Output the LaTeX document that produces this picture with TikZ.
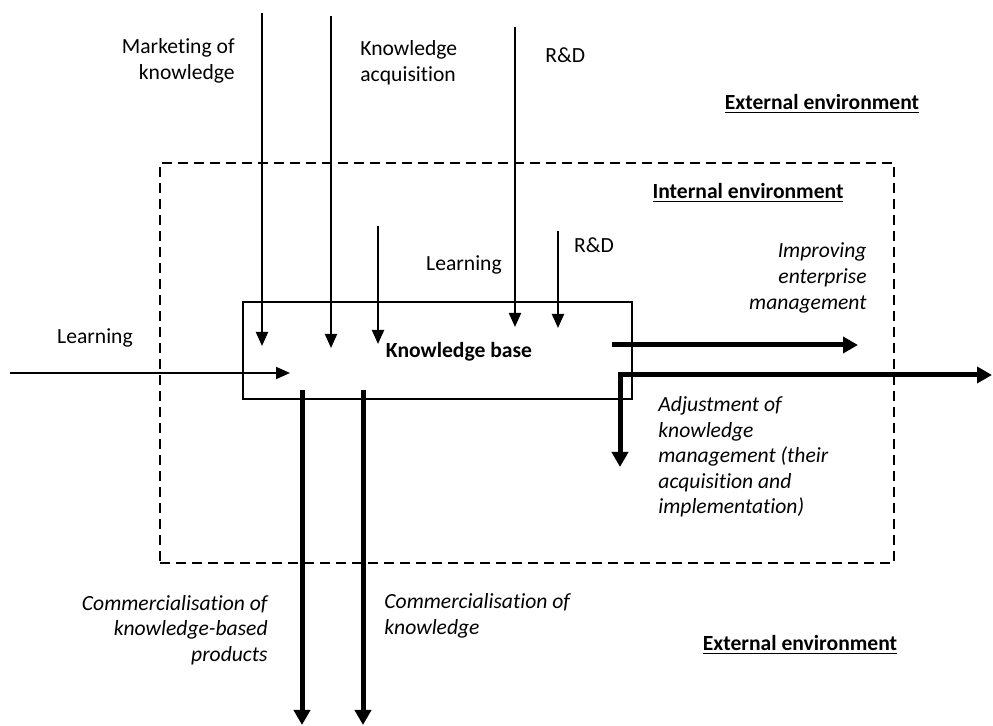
\documentclass[tikz,border=0pt]{standalone}
\usepackage{fontspec}
\setmainfont[Ligatures=NoCommon]{Carlito}
\usetikzlibrary{arrows.meta}

\tikzset{
  thinarrow/.style={line width=1pt,-{Triangle[length=7pt,width=6pt]}},
  thickarrow/.style={line width=2.5pt,-{Triangle[length=7.5pt,width=8pt]}},
  lbl/.style={inner sep=0pt,font=\fontsize{10.8}{12.8}\selectfont},
  itlbl/.style={lbl,font=\fontsize{10.8}{12.8}\selectfont\itshape},
  envlbl/.style={lbl,font=\fontsize{10.8}{12.8}\selectfont\bfseries},
}

\begin{document}
\begin{tikzpicture}[x=0.5pt,y=-0.5pt]
  \useasboundingbox (0,0) rectangle (993,726);

  % environments
  \node[draw,line width=1pt,dash pattern=on 5pt off 3pt,minimum width=367pt,
    minimum height=200pt,inner sep=0pt] (internal) at (527,363) {};
  \node[draw,line width=0.75pt,minimum width=194.5pt,minimum height=48.5pt,
    inner sep=0pt] (base) at (437.5,350.5) {};
  \node[envlbl] (basetext) at (459,352) {Knowledge base};

  \node[envlbl] (exttop) at (822,104) {\underline{External environment}};
  \node[envlbl] (extbot) at (800,645) {\underline{External environment}};
  \node[envlbl] (intlbl) at (748,193) {\underline{Internal environment}};

  % inputs
  \node[lbl,anchor=east,align=right] (marketing) at (235,61) {Marketing of\\knowledge};
  \node[lbl,anchor=west,align=left] (acquisition) at (360,63) {Knowledge\\acquisition};
  \node[lbl,anchor=west] (rdout) at (545,55) {R\&D};
  \node[lbl] (rdin) at (594,245) {R\&D};
  \node[lbl] (learnin) at (464,265) {Learning};
  \node[lbl] (learnout) at (95,338) {Learning};

  \foreach \i/\x/\ya/\yb in {1/262/13/346, 2/331/16/348, 3/378/226/344,
      4/515/27/327, 5/558/231/328} {
    \coordinate (top\i) at (\x,\ya);
    \coordinate (end\i) at (\x,\yb);
    \draw[thinarrow] (top\i) -- (end\i);
  }

  \coordinate (learnstart) at (10,373);
  \coordinate (learnend) at (290,373);
  \draw[thinarrow] (learnstart) -- (learnend);

  % outputs
  \node[itlbl,anchor=east,align=right] (improving) at (867,278)
    {Improving\\enterprise\\management};
  \node[itlbl,anchor=west,align=left] (adjustment) at (658,457)
    {Adjustment of\\knowledge\\management (their\\acquisition and\\implementation)};
  \node[itlbl,anchor=east,align=right] (commprod) at (268,630)
    {Commercialisation of\\knowledge-based\\products};
  \node[itlbl,anchor=west,align=left] (commknow) at (384,616)
    {Commercialisation of\\knowledge};

  \coordinate (impstart) at (612,345);
  \coordinate (impend) at (858,345);
  \draw[thickarrow] (impstart) -- (impend);

  \coordinate (adjend) at (620,467);
  \coordinate (outend) at (992,375);
  \draw[thickarrow,{Triangle[length=7.5pt,width=8pt]}-{Triangle[length=7.5pt,width=8pt]},
    line join=miter] (adjend) |- (outend);

  \coordinate (prodstart) at (302,390);
  \coordinate (prodend) at (302,725);
  \draw[thickarrow] (prodstart) -- (prodend);
  \coordinate (knowstart) at (363,390);
  \coordinate (knowend) at (363,725);
  \draw[thickarrow] (knowstart) -- (knowend);
\end{tikzpicture}
\end{document}
